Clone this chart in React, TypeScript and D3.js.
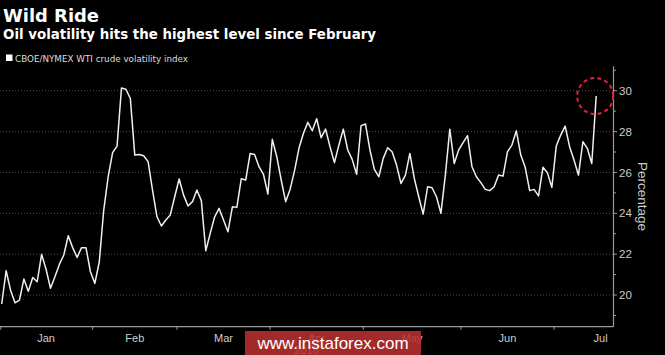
import React, { useEffect, useRef } from 'react';
import * as d3 from 'd3';

// CBOE/NYMEX WTI crude oil volatility index, one value per trading day, Jan 2 - Jul 16 2018
const volatility = [
  19.56, 21.19, 20.24, 19.62, 19.75, 20.78, 20.18, 20.86, 20.65, 21.99,
  21.26, 20.33, 20.90, 21.50, 21.96, 22.90, 22.32, 21.84, 22.32, 22.32,
  21.14, 20.57, 21.63, 24.16, 25.79, 26.97, 27.29, 30.13, 30.07, 29.62,
  26.85, 26.88, 26.82, 26.53, 25.14, 23.83, 23.38, 23.67, 23.92, 24.81,
  25.68, 24.89, 24.36, 24.57, 25.14, 24.62, 22.17, 23.02, 23.83, 24.24,
  23.67, 23.10, 24.32, 24.29, 25.69, 25.63, 26.93, 26.88, 26.28, 25.91,
  24.94, 27.62, 26.77, 25.63, 24.57, 25.17, 26.08, 27.18, 27.91, 28.45,
  28.04, 28.63, 27.70, 28.12, 27.26, 26.48, 27.34, 28.12, 27.10, 26.64,
  25.91, 28.29, 28.37, 27.10, 26.15, 25.79, 26.69, 27.21, 27.01, 26.36,
  25.46, 25.87, 26.93, 25.71, 24.81, 23.96, 25.30, 25.25, 24.81, 24.00,
  25.87, 28.12, 26.44, 27.10, 27.46, 27.80, 26.28, 25.79, 25.50, 25.17,
  25.11, 25.30, 25.87, 25.82, 27.01, 27.34, 28.04, 26.85, 26.25, 25.11,
  25.17, 24.85, 26.25, 25.99, 25.27, 27.29, 27.83, 28.27, 27.26, 26.61,
  25.87, 27.50, 27.18, 26.44, 29.74,
];

const monthLabels = ['Jan', 'Feb', 'Mar', 'Apr', 'May', 'Jun', 'Jul'];
const tradingDaysPerMonth = [21, 19, 21, 21, 22, 21, 21];
const yearLabel = '2018';
const yLabelTicks = [20, 22, 24, 26, 28, 30];
const yMinorTicks = [19, 20, 21, 22, 23, 24, 25, 26, 27, 28, 29, 30, 31];

const title = 'Wild Ride';
const subtitle = 'Oil volatility hits the highest level since February';
const legendLabel = 'CBOE/NYMEX WTI crude volatility index';

const W = 665;
const H = 355;

export default function App() {
  const ref = useRef<SVGSVGElement>(null);

  useEffect(() => {
    const svg = d3.select(ref.current);
    svg.selectAll('*').remove();

    const axisX = 613.5;
    const axisY = 326.7;

    const x = d3.scaleLinear().domain([-0.38, 137.9]).range([0, axisX]);
    const y = d3.scaleLinear().domain([18.45, 31.2]).range([axisY, 66.2]);

    svg.append('rect').attr('width', W).attr('height', H).attr('fill', '#000');

    // headings
    svg.append('text').attr('x', 3).attr('y', 22)
      .attr('font-family', 'DejaVu Sans').attr('font-weight', 'bold')
      .attr('font-size', 18).attr('fill', '#fff')
      .attr('textLength', 96).attr('lengthAdjust', 'spacingAndGlyphs')
      .text(title);
    svg.append('text').attr('x', 3).attr('y', 39)
      .attr('font-family', 'DejaVu Sans').attr('font-weight', 'bold')
      .attr('font-size', 13.4).attr('fill', '#fff')
      .attr('textLength', 373).attr('lengthAdjust', 'spacingAndGlyphs')
      .text(subtitle);

    svg.append('rect').attr('x', 6).attr('y', 54.5).attr('width', 6.5).attr('height', 6.5).attr('fill', '#fff');
    svg.append('text').attr('x', 15).attr('y', 61.5)
      .attr('font-family', 'DejaVu Sans').attr('font-size', 8.8).attr('fill', '#ddd')
      .attr('textLength', 173).attr('lengthAdjust', 'spacingAndGlyphs')
      .text(legendLabel);

    // grid
    svg.append('g').selectAll('line').data(yLabelTicks).join('line')
      .attr('x1', 0).attr('x2', axisX)
      .attr('y1', d => y(d)).attr('y2', d => y(d))
      .attr('stroke', '#4a4a4a').attr('stroke-width', 1).attr('stroke-dasharray', '1,2');

    // right axis
    svg.append('line').attr('x1', axisX).attr('x2', axisX)
      .attr('y1', y(31.2)).attr('y2', axisY)
      .attr('stroke', '#9a9a9a').attr('stroke-width', 1.2);
    svg.append('g').selectAll('line').data(yMinorTicks).join('line')
      .attr('x1', axisX).attr('x2', d => axisX + (d % 2 === 0 ? 3.5 : 2.5))
      .attr('y1', d => y(d)).attr('y2', d => y(d))
      .attr('stroke', '#9a9a9a').attr('stroke-width', 1);
    svg.append('g').selectAll('text').data(yLabelTicks).join('text')
      .attr('x', 619).attr('y', d => y(d)).attr('dy', '0.36em')
      .attr('font-family', 'Liberation Sans').attr('font-size', 11.5).attr('fill', '#ccc')
      .text(d => d);
    svg.append('text')
      .attr('transform', `translate(638,${(y(31.2) + axisY) / 2}) rotate(90)`)
      .attr('text-anchor', 'middle')
      .attr('font-family', 'Liberation Sans').attr('font-size', 13.5).attr('fill', '#ccc')
      .text('Percentage');

    // bottom axis
    svg.append('line').attr('x1', 0).attr('x2', axisX)
      .attr('y1', axisY).attr('y2', axisY)
      .attr('stroke', '#9a9a9a').attr('stroke-width', 1.2);

    const starts = d3.cumsum([0, ...tradingDaysPerMonth]);
    const months = monthLabels.map((m, i) => ({ m, start: starts[i], end: starts[i + 1] }));
    svg.append('g').selectAll('line').data(months).join('line')
      .attr('x1', d => x(Math.max(d.start - 0.5, -0.2))).attr('x2', d => x(Math.max(d.start - 0.5, -0.2)))
      .attr('y1', axisY).attr('y2', axisY + 3)
      .attr('stroke', '#9a9a9a').attr('stroke-width', 1);
    svg.append('g').selectAll('text').data(months).join('text')
      .attr('x', d => x((d.start + d.end - 1) / 2)).attr('y', 342)
      .attr('text-anchor', 'middle')
      .attr('font-family', 'Liberation Sans').attr('font-size', 11).attr('fill', '#ccc')
      .text(d => d.m);
    svg.append('text').attr('x', axisX / 2).attr('y', 354)
      .attr('text-anchor', 'middle')
      .attr('font-family', 'Liberation Sans').attr('font-size', 11).attr('fill', '#ccc')
      .text(yearLabel);

    // series
    const line = d3.line<number>()
      .x((_, i) => x(i))
      .y(d => y(d));
    svg.append('path').datum(volatility)
      .attr('fill', 'none').attr('stroke', '#f0f0f0')
      .attr('stroke-width', 1.5).attr('stroke-linejoin', 'round')
      .attr('d', line);

    // highlight circle on the latest value
    const last = volatility.length - 1;
    svg.append('circle')
      .attr('cx', x(last) - 1).attr('cy', y(volatility[last]))
      .attr('r', 18).attr('fill', 'none')
      .attr('stroke', '#e8203c').attr('stroke-width', 2)
      .attr('stroke-dasharray', '4,3.2');

    // watermark
    svg.append('rect').attr('x', 245).attr('y', 331).attr('width', 176).attr('height', 24)
      .attr('fill', 'rgb(185,48,48)').attr('fill-opacity', 0.88);
    svg.append('text').attr('x', 333).attr('y', 348.5)
      .attr('text-anchor', 'middle')
      .attr('font-family', 'Liberation Sans').attr('font-size', 17).attr('fill', '#fff')
      .text('www.instaforex.com');
  }, []);

  return (
    <svg ref={ref} width={W} height={H}
      style={{ position: 'absolute', left: 0, top: 0, display: 'block' }} />
  );
}
